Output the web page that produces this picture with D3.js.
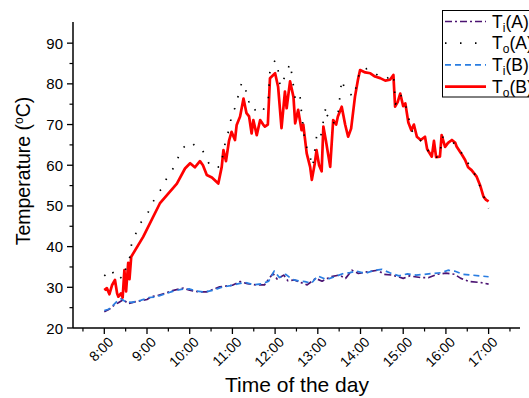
<!DOCTYPE html>
<html><head><meta charset="utf-8">
<script src="https://cdn.jsdelivr.net/npm/d3@7/dist/d3.min.js"></script>
<style>body{margin:0;background:#fff}svg{display:block;font-family:Arial,"Liberation Sans",sans-serif}</style>
</head><body><svg id="c" width="529" height="398"></svg>
<script>
// Data (hours of day, °C)
const tickHours = [8,9,10,11,12,13,14,15,16,17];
const tickLabels = ["8:00","9:00","10:00","11:00","12:00","13:00","14:00","15:00","16:00","17:00"];
const yTicks = [20,30,40,50,60,70,80,90];

const toB_t = [8.00,8.06,8.12,8.18,8.25,8.30,8.33,8.39,8.43,8.47,8.51,8.56,8.59,8.63,8.91,9.30,9.70,9.89,10.01,10.12,10.24,10.31,10.40,10.52,10.67,10.75,10.79,10.85,10.92,10.98,11.06,11.10,11.18,11.26,11.33,11.39,11.45,11.49,11.57,11.65,11.72,11.76,11.83,11.88,12.00,12.07,12.15,12.23,12.27,12.35,12.43,12.47,12.54,12.62,12.66,12.74,12.82,12.86,12.93,12.97,13.03,13.09,13.13,13.19,13.29,13.36,13.43,13.47,13.56,13.64,13.71,13.78,13.87,13.94,13.99,14.11,14.23,14.34,14.46,14.58,14.69,14.77,14.81,14.87,14.93,15.00,15.05,15.12,15.19,15.25,15.32,15.41,15.51,15.56,15.67,15.72,15.77,15.86,15.90,15.98,16.05,16.14,16.22,16.25,16.38,16.45,16.52,16.60,16.72,16.80,16.88,16.94,17.00];
const toB_v = [29.3,29.8,28.3,30.5,31.8,28.5,27.7,28.5,27.5,34.2,29,36,32,37.5,42.4,50.6,55.5,59.2,60.5,59.5,61,60,57.6,57,55.5,59.6,63.7,61,66,68.2,66.2,69.9,72,76.4,72.8,72,67.8,71.1,67.4,71.1,70,69.5,70,81.4,82.6,79.3,69.1,78.1,74,80.6,76.8,70.3,73.6,68.6,70,62.9,59.6,56.4,60.5,63.7,60,58.5,69.5,66,59.6,71.1,70,72,74.4,70,67,69,76.8,81,83.4,82.8,82.6,81.8,81.4,80.8,81,82.2,74.4,75.5,77.6,74.5,75.2,70.5,68.6,70,67,66.2,67,64,62.1,66,62,62.1,67.4,64.5,65.5,66.2,65.5,64.6,62.5,61.3,59.5,58.8,57.2,55.1,52.3,51.5,51.1];

const toA_t = [8.00,8.17,8.25,8.33,8.42,8.52,8.60,8.64,8.84,9.00,9.13,9.27,9.38,9.48,9.59,9.70,9.78,9.97,10.06,10.16,10.27,10.37,10.48,10.60,10.72,10.79,10.86,10.94,10.98,11.06,11.14,11.22,11.30,11.36,11.45,11.53,11.63,11.72,11.84,11.88,12.00,12.05,12.12,12.23,12.35,12.39,12.47,12.58,12.60,12.70,12.80,12.88,12.97,13.05,13.19,13.22,13.35,13.47,13.56,13.64,13.84,13.99,14.18,14.30,14.46,14.60,14.77,14.82,14.93,15.05,15.20,15.41,15.56,15.67,15.86,15.90,16.14,16.30,16.40,16.55,16.72,16.88,17.00];
const toA_v = [32.8,34.4,32.5,33,32,35.1,37.5,40.8,45.7,47.8,50.8,53.3,54.7,57.3,58.8,60.9,63.5,65.6,65.5,64.2,64,62.5,59.6,59.5,59.6,63.3,67,69.1,72.8,74,77.2,80.4,79.3,75.5,75.8,73.6,74.5,73.5,76.3,83.4,85.8,85,79.3,81.8,85,82.5,76.4,77.6,74.8,65.4,62.9,59.6,67,66,74.4,72.3,70,72.3,81,78.5,76.8,83.4,83.8,83,81.6,81.2,82.4,75,77.5,75,68.5,66,64,62,62,67,66,64,62.5,60,57,52.5,49.4];

const tiA_t = [8.00,8.08,8.14,8.25,8.33,8.45,8.55,8.75,9.00,9.10,9.25,9.42,9.60,9.85,10.00,10.20,10.40,10.55,10.70,10.85,11.00,11.18,11.35,11.55,11.75,11.95,12.05,12.20,12.30,12.45,12.60,12.75,12.95,13.10,13.30,13.50,13.65,13.80,13.95,14.15,14.40,14.55,14.75,15.00,15.15,15.40,15.60,15.80,16.00,16.20,16.35,16.55,16.80,17.00];
const tiA_v = [24,24.4,24.8,25.8,26.2,27,26,26.5,27,27.7,28,28.5,29.2,29.8,29.3,28.9,28.9,29.5,30.1,30.3,30.5,31.4,30.9,30.6,30.6,33.4,32,33,31.6,31.8,31.2,30.6,32.2,31.5,32.6,33,32.2,34.2,33.4,33.8,34.2,33.2,33,32.2,32.8,32.4,32.4,33.2,33.5,33.2,32.2,31.4,31.2,30.8];

const tiB_t = [8.00,8.10,8.20,8.30,8.40,8.50,8.65,8.85,9.05,9.20,9.40,9.60,9.80,10.00,10.15,10.35,10.55,10.75,10.95,11.15,11.30,11.50,11.70,11.85,11.98,12.10,12.25,12.40,12.55,12.70,12.85,13.00,13.20,13.40,13.60,13.75,13.90,14.10,14.30,14.50,14.70,14.90,15.10,15.30,15.50,15.70,15.90,16.05,16.20,16.40,16.60,16.80,17.00];
const tiB_v = [24.3,24.6,25.5,26.6,27.2,26.4,26.3,26.8,27.5,27.6,28.3,29,29.5,29.6,29.1,28.8,29.3,30,30.4,30.9,31.2,30.6,30.9,31.5,34,32.4,33.2,31.9,31.6,31.4,31,32.8,31.9,32.6,33.4,33.6,34,33.4,34.1,34.4,33.5,32.8,33.3,33,33.2,33.4,33.6,34.2,34,33.2,33,32.8,32.6];

const series = [
  {t: tiA_t, v: tiA_v, color: "#4b1372", width: 1.7, dash: "7,3,2,3", label: ["T","i","(A)"]},
  {t: toA_t, v: toA_v, color: "#000000", width: 1.7, dash: "1.5,11", label: ["T","o","(A)"]},
  {t: tiB_t, v: tiB_v, color: "#2a7de1", width: 1.7, dash: "6,4", label: ["T","i","(B)"]},
  {t: toB_t, v: toB_v, color: "#ff0000", width: 2.7, dash: null, label: ["T","o","(B)"]}
];

const svg = d3.select("#c");
const x = d3.scaleLinear().domain([7.267, 17.735]).range([73, 520]);
const y = d3.scaleLinear().domain([20, 95.2]).range([328, 22]);

const line = d3.line().x(d => x(d[0])).y(d => y(d[1]));
const order = [0, 2, 3, 1];
order.forEach(i => {
  const s = series[i];
  svg.append("path")
    .attr("d", line(s.t.map((t, k) => [t, s.v[k]])))
    .attr("fill", "none").attr("stroke", s.color)
    .attr("stroke-width", s.width)
    .attr("stroke-linejoin", "round")
    .attr("stroke-dasharray", s.dash);
});

// axes
const xMinor = d3.range(7.5, 17.6, 0.5).filter(h => h % 1 !== 0);
const gx = svg.append("g").attr("transform", "translate(0,328)");
gx.append("line").attr("x1", 73).attr("x2", 520).attr("stroke", "#000").attr("stroke-width", 1.5);
gx.selectAll(".mj").data(tickHours).join("line")
  .attr("x1", d => x(d)).attr("x2", d => x(d)).attr("y1", 0).attr("y2", 6)
  .attr("stroke", "#000").attr("stroke-width", 1.3);
gx.selectAll(".mn").data(xMinor).join("line")
  .attr("x1", d => x(d)).attr("x2", d => x(d)).attr("y1", 0).attr("y2", 3.5)
  .attr("stroke", "#000").attr("stroke-width", 1.2);
gx.selectAll("text").data(tickHours).join("text")
  .attr("transform", (d) => `translate(${x(d) + 10},${15}) rotate(-45)`)
  .attr("text-anchor", "end")
  .attr("font-size", 14)
  .text((d, i) => tickLabels[i]);

const yMinor = d3.range(25, 95, 10);
const gy = svg.append("g");
gy.append("line").attr("x1", 73).attr("x2", 73).attr("y1", 22).attr("y2", 328).attr("stroke", "#000").attr("stroke-width", 1.5);
gy.selectAll(".mj").data(yTicks).join("line")
  .attr("x1", 67).attr("x2", 73).attr("y1", d => y(d)).attr("y2", d => y(d))
  .attr("stroke", "#000").attr("stroke-width", 1.3);
gy.selectAll(".mn").data(yMinor).join("line")
  .attr("x1", 69.5).attr("x2", 73).attr("y1", d => y(d)).attr("y2", d => y(d))
  .attr("stroke", "#000").attr("stroke-width", 1.2);
gy.selectAll("text").data(yTicks).join("text")
  .attr("x", 63).attr("y", d => y(d) + 5.5)
  .attr("text-anchor", "end").attr("font-size", 15)
  .text(d => d);

// axis titles
svg.append("text").attr("x", 297).attr("y", 392).attr("text-anchor", "middle")
  .attr("font-size", 21).text("Time of the day");
const yt = svg.append("text").attr("transform", "translate(30,171) rotate(-90)")
  .attr("text-anchor", "middle").attr("font-size", 19.5);
yt.append("tspan").text("Temperature (");
yt.append("tspan").attr("font-size", 12).attr("dy", -7).text("o");
yt.append("tspan").attr("dy", 7).text("C)");

// legend
const lg = svg.append("g");
lg.append("rect").attr("x", 442.5).attr("y", 10.5).attr("width", 100).attr("height", 86.5)
  .attr("fill", "#fff").attr("stroke", "#000").attr("stroke-width", 1);
series.forEach((s, i) => {
  const cy = 21.5 + i * 21.7;
  lg.append("line").attr("x1", 445).attr("x2", 486).attr("y1", cy).attr("y2", cy)
    .attr("stroke", s.color).attr("stroke-width", s.width)
    .attr("stroke-dasharray", s.dash === "1.5,11" ? "1.5,13.5" : s.dash);
  const tx = lg.append("text").attr("x", 492).attr("y", cy + 6).attr("font-size", 17.5);
  tx.append("tspan").text(s.label[0]);
  tx.append("tspan").attr("font-size", 12).attr("dy", 4).text(s.label[1]);
  tx.append("tspan").attr("dy", -4).text(s.label[2]);
});
</script></body></html>
